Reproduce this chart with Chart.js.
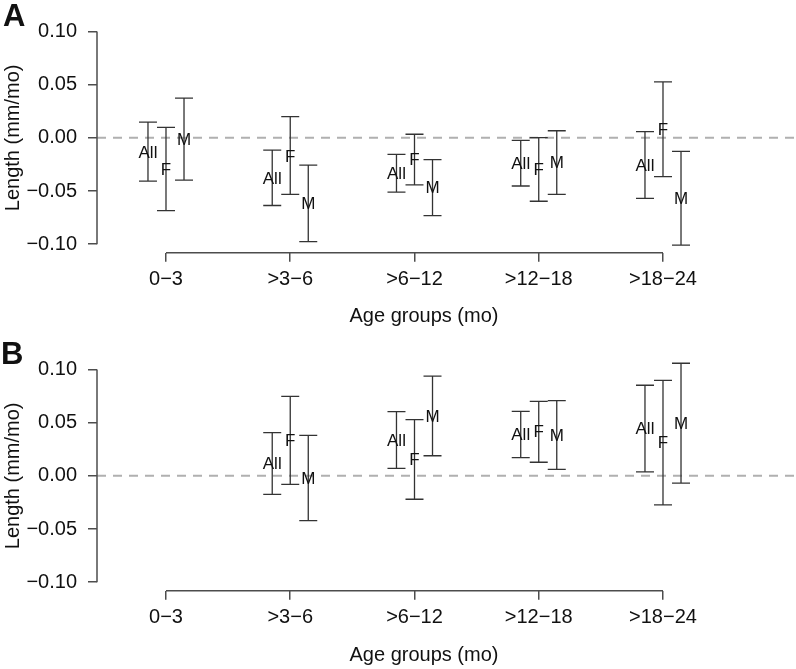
<!DOCTYPE html>
<html lang="en">
<head>
<meta charset="UTF-8">
<title>Length change by age group</title>
<style>
  body { margin: 0; background: #fff; }
  .panel { width: 796px; }
  canvas { display: block; }
</style>
</head>
<body>
  <div class="panel"><canvas id="chartA" width="796" height="338"></canvas></div>
  <div class="panel"><canvas id="chartB" width="796" height="331"></canvas></div>

  <script src="https://cdn.jsdelivr.net/npm/chart.js"></script>
  <script>
    // categories and tick labels
    const ageGroups = ['0\u22123', '>3\u22126', '>6\u221212', '>12\u221218', '>18\u221224'];
    const seriesNames = ['All', 'F', 'M'];
    const yTicks = [-0.10, -0.05, 0.00, 0.05, 0.10];

    // panel A - estimate, lower and upper limit per series
    const aAllEst = [-0.0135, -0.0378, -0.0335, -0.0240, -0.0257];
    const aAllLo  = [-0.0407, -0.0636, -0.0511, -0.0453, -0.0569];
    const aAllHi  = [ 0.0147, -0.0116, -0.0156, -0.0024,  0.0058];
    const aFEst   = [-0.0292, -0.0170, -0.0205, -0.0293,  0.0082];
    const aFLo    = [-0.0685, -0.0532, -0.0443, -0.0596, -0.0364];
    const aFHi    = [ 0.0098,  0.0199,  0.0034,  0.0003,  0.0526];
    const aMEst   = [-0.0013, -0.0617, -0.0468, -0.0234, -0.0569];
    const aMLo    = [-0.0397, -0.0976, -0.0731, -0.0532, -0.1009];
    const aMHi    = [ 0.0373, -0.0257, -0.0205,  0.0067, -0.0128];

    // panel B - no estimate for the first age group
    const bAllEst = [null, 0.0115, 0.0336, 0.0388, 0.0444];
    const bAllLo  = [null, -0.0174, 0.0070, 0.0171, 0.0037];
    const bAllHi  = [null, 0.0406, 0.0604, 0.0607, 0.0852];
    const bFEst   = [null, 0.0332, 0.0153, 0.0416, 0.0313];
    const bFLo    = [null, -0.0080, -0.0220, 0.0128, -0.0272];
    const bFHi    = [null, 0.0747, 0.0528, 0.0701, 0.0897];
    const bMEst   = [null, -0.0021, 0.0562, 0.0383, 0.0496];
    const bMLo    = [null, -0.0421, 0.0189, 0.0060, -0.0068];
    const bMHi    = [null, 0.0381, 0.0937, 0.0708, 0.1059];

    const FONT = "'Liberation Sans', Arial, Helvetica, sans-serif";
    const shift = [-0.145, 0, 0.145]; // side by side offset of All / F / M

    Chart.defaults.font.family = FONT;
    Chart.defaults.color = '#111';

    function fmtTick(v) {
      return (v < -1e-9 ? '\u2212' : '') + Math.abs(v).toFixed(2);
    }

    // dashed zero line, R style axes, error bars, panel tag
    const rStyle = {
      id: 'rStyle',
      beforeDatasetsDraw(chart) {
        const { ctx, chartArea, scales: { x, y } } = chart;
        ctx.save();
        ctx.strokeStyle = '#b0b0b0';
        ctx.lineWidth = 2;
        ctx.setLineDash([9, 7]);
        const y0 = y.getPixelForValue(0);
        ctx.beginPath();
        ctx.moveTo(chartArea.left, y0);
        ctx.lineTo(chart.width, y0);
        ctx.stroke();
        ctx.setLineDash([]);

        ctx.strokeStyle = '#4d4d4d';
        ctx.lineWidth = 1.5;
        ctx.beginPath();
        ctx.moveTo(chartArea.left, y.getPixelForValue(yTicks[yTicks.length - 1]));
        ctx.lineTo(chartArea.left, y.getPixelForValue(yTicks[0]));
        ctx.moveTo(x.getPixelForValue(1), chartArea.bottom);
        ctx.lineTo(x.getPixelForValue(ageGroups.length), chartArea.bottom);
        ctx.stroke();
        ctx.restore();
      },
      afterDatasetsDraw(chart, args, opts) {
        const { ctx, scales: { y } } = chart;
        ctx.save();
        ctx.strokeStyle = '#333';
        ctx.lineWidth = 1.3;
        chart.data.datasets.forEach((ds, d) => {
          const meta = chart.getDatasetMeta(d);
          meta.data.forEach((pt, j) => {
            const raw = ds.data[j];
            const top = y.getPixelForValue(raw.hi);
            const bot = y.getPixelForValue(raw.lo);
            ctx.beginPath();
            ctx.moveTo(pt.x, top); ctx.lineTo(pt.x, bot);
            ctx.moveTo(pt.x - 9, top); ctx.lineTo(pt.x + 9, top);
            ctx.moveTo(pt.x - 9, bot); ctx.lineTo(pt.x + 9, bot);
            ctx.stroke();
          });
        });
        ctx.fillStyle = '#111';
        ctx.font = '17px ' + FONT;
        ctx.textAlign = 'center';
        ctx.textBaseline = 'middle';
        chart.data.datasets.forEach((ds, d) => {
          chart.getDatasetMeta(d).data.forEach(pt => {
            ctx.fillText(ds.label, pt.x, pt.y + 1);
          });
        });
        ctx.font = 'bold 31px ' + FONT;
        ctx.textAlign = 'left';
        ctx.textBaseline = 'alphabetic';
        ctx.fillText(opts.tag, opts.tagX, 26);
        ctx.restore();
      }
    };

    function buildSeries(est, lo, hi) {
      return seriesNames.map((name, s) => ({
        label: name,
        data: est[s].map((v, i) => v === null ? null : { x: i + 1 + shift[s], y: v, lo: lo[s][i], hi: hi[s][i] })
                    .filter(p => p !== null),
        pointRadius: 0,
        showLine: false
      }));
    }

    function makePanel(id, tag, tagX, titlePad, est, lo, hi) {
      const canvas = document.getElementById(id);
      const H = canvas.height;
      return new Chart(canvas, {
        type: 'scatter',
        data: { datasets: buildSeries(est, lo, hi) },
        options: {
          responsive: false,
          animation: false,
          layout: { padding: { top: 17.3, right: 45, left: 0, bottom: 0 } },
          plugins: {
            legend: { display: false },
            tooltip: { enabled: false },
            rStyle: { tag: tag, tagX: tagX }
          },
          scales: {
            x: {
              type: 'linear',
              min: 0.4447,
              max: 5.7083,
              afterBuildTicks: s => { s.ticks = ageGroups.map((g, i) => ({ value: i + 1 })); },
              afterFit: s => { s.height = H - 252.7; },
              grid: { drawOnChartArea: false, drawTicks: true, tickLength: 9, color: '#4d4d4d', lineWidth: 1.5 },
              border: { display: false },
              ticks: {
                autoSkip: false, maxRotation: 0, padding: 6,
                font: { size: 20 }, color: '#111',
                callback: v => ageGroups[Math.round(v) - 1]
              },
              title: { display: true, text: 'Age groups (mo)', font: { size: 20 }, color: '#111', padding: { top: 0, bottom: titlePad } }
            },
            y: {
              min: -0.108,
              max: 0.108,
              afterBuildTicks: s => { s.ticks = yTicks.map(v => ({ value: v })); },
              afterFit: s => { s.width = 97; },
              grid: { drawOnChartArea: false, drawTicks: true, tickLength: 9, color: '#4d4d4d', lineWidth: 1.5 },
              border: { display: false },
              ticks: { padding: 11, font: { size: 20 }, color: '#111', callback: v => fmtTick(v) },
              title: { display: true, text: 'Length (mm/mo)', font: { size: 20 }, color: '#111', padding: { top: 1, bottom: 0 } }
            }
          }
        },
        plugins: [rStyle]
      });
    }

    makePanel('chartA', 'A', 3, 10,
      [aAllEst, aFEst, aMEst], [aAllLo, aFLo, aMLo], [aAllHi, aFHi, aMHi]);
    makePanel('chartB', 'B', 1, 2,
      [bAllEst, bFEst, bMEst], [bAllLo, bFLo, bMLo], [bAllHi, bFHi, bMHi]);
  </script>
</body>
</html>
